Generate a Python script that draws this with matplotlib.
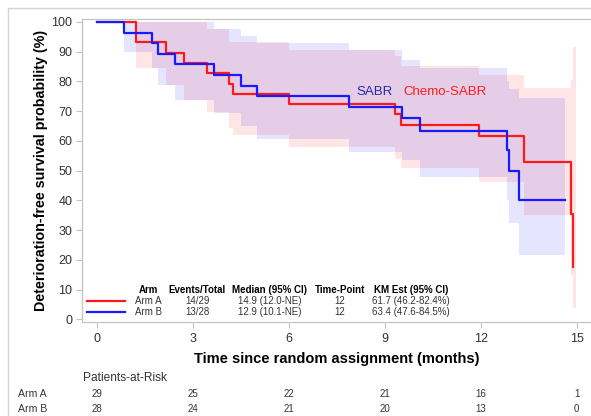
import numpy as np
import matplotlib
matplotlib.use('Agg')
import matplotlib.pyplot as plt
from matplotlib.lines import Line2D
from matplotlib.transforms import blended_transform_factory

plt.rcParams['font.family'] = ['Liberation Sans', 'DejaVu Sans']

# ── Data ──────────────────────────────────────────────────────────────────────

# Arm A (Chemo-SABR)
a_time  = [0, 1.23, 2.17, 2.74, 3.44, 4.15, 4.25, 6.02, 9.32, 9.50, 11.96, 13.35, 14.83, 14.90]
a_surv  = [100, 93.1, 89.7, 86.2, 82.8, 79.3, 75.9, 72.4, 68.9, 65.5, 61.7, 52.9, 35.3, 17.6]
a_upper = [100, 100, 100, 100, 97.6, 93.2, 93.2, 90.6, 88.5, 85.3, 82.2, 77.7, 80.6, 91.7]
a_lower = [100, 84.4, 78.8, 73.8, 69.8, 64.5, 62.0, 58.1, 54.0, 50.8, 46.3, 35.1, 15.0, 3.8]
a_end      = 14.90
a_band_end = 14.97

# Arm B (SABR)
b_time  = [0, 0.84, 1.72, 1.91, 2.45, 3.68, 4.51, 5.00, 7.90, 9.55, 10.09, 12.83, 12.90, 13.19]
b_surv  = [100, 96.4, 92.9, 89.3, 85.7, 82.1, 78.6, 75.0, 71.4, 67.7, 63.5, 57.1, 50.0, 40.0]
b_upper = [100, 100, 100, 100, 100, 97.6, 95.3, 92.8, 90.6, 87.2, 84.4, 80.0, 77.5, 74.3]
b_lower = [100, 89.8, 84.4, 78.8, 73.8, 69.3, 65.0, 60.8, 56.4, 53.5, 48.0, 40.0, 32.3, 21.6]
b_end = 14.65

risk_times = [0, 3, 6, 9, 12, 15]
risk_a = [29, 25, 22, 21, 16, 1]
risk_b = [28, 24, 21, 20, 13, 0]

table_header = ['Arm', 'Events/Total', 'Median (95% CI)', 'Time-Point', 'KM Est (95% CI)']
table_rows = [
    ['Arm A', '14/29', '14.9 (12.0-NE)', '12', '61.7 (46.2-82.4%)'],
    ['Arm B', '13/28', '12.9 (10.1-NE)', '12', '63.4 (47.6-84.5%)'],
]

RED  = '#ff1a1a'
BLUE = '#1a1aff'
GRID = '#c4c4c4'
TXT  = '#333333'

W, H = 591, 416
def fx(px): return px / W
def fy(py): return 1 - py / H

fig = plt.figure(figsize=(5.91, 4.16), dpi=100)
ax = fig.add_axes([fx(82), fy(322), 1.0 - fx(82), fy(19) - fy(322)])

# confidence bands
ax.fill_between(a_time + [a_band_end], a_lower + [a_lower[-1]], a_upper + [a_upper[-1]],
                step='post', color='red', alpha=0.1, lw=0)
ax.fill_between(b_time + [b_end], b_lower + [b_lower[-1]], b_upper + [b_upper[-1]],
                step='post', color='blue', alpha=0.1, lw=0)

# KM curves
ax.step(a_time + [a_end], a_surv + [a_surv[-1]], where='post', color=RED, lw=1.6)
ax.step(b_time + [b_end], b_surv + [b_surv[-1]], where='post', color=BLUE, lw=1.6)

ax.text(8.12, 76.6, 'SABR', color='#2828a8', fontsize=9.5, va='center')
ax.text(9.58, 76.6, 'Chemo-SABR', color='#ff1a1a', fontsize=9.5, va='center')

ax.set_xlim(-0.46, 15.45)
ax.set_ylim(-0.9, 101.0)
ax.set_xticks(risk_times)
ax.set_yticks(np.arange(0, 101, 10))
ax.tick_params(axis='both', colors=GRID, labelcolor=TXT, labelsize=9, length=4, width=0.8)
ax.tick_params(axis='x', pad=4)
ax.tick_params(axis='y', pad=3)
for s in ['top', 'left', 'bottom']:
    ax.spines[s].set_color(GRID)
    ax.spines[s].set_linewidth(0.9)
ax.spines['right'].set_visible(False)

fig.text(fx(41), fy(170), 'Deterioration-free survival probability (%)', rotation=90,
         ha='center', va='center', fontsize=10.3, fontweight='bold', color='black')
fig.text(fx(337), fy(359), 'Time since random assignment (months)',
         ha='center', va='center', fontsize=10.5, fontweight='bold', color='black')

# legend table inside the plot
col_x = [148.5, 197, 270, 340, 411]
row_y = [290, 300.7, 312.3]
for cx, h in zip(col_x, table_header):
    fig.text(fx(cx), fy(row_y[0]), h, ha='center', va='center', fontsize=7,
             fontweight='bold', color='black')
for ry, row in zip(row_y[1:], table_rows):
    for cx, v in zip(col_x, row):
        fig.text(fx(cx), fy(ry), v, ha='center', va='center', fontsize=7, color=TXT)
for ry, c in zip(row_y[1:], [RED, BLUE]):
    fig.add_artist(Line2D([fx(87), fx(125)], [fy(ry), fy(ry)], color=c, lw=1.6))

# patients at risk
fig.text(fx(83), fy(378), 'Patients-at-Risk', ha='left', va='center', fontsize=8.6, color=TXT)
trans = blended_transform_factory(ax.transData, fig.transFigure)
for ry, name, vals in [(394, 'Arm A', risk_a), (409, 'Arm B', risk_b)]:
    fig.text(fx(18), fy(ry), name, ha='left', va='center', fontsize=7.6, color=TXT)
    for t, v in zip(risk_times, vals):
        ax.text(t, fy(ry), str(v), transform=trans, ha='center', va='center',
                fontsize=7, color=TXT, clip_on=False)

# outer frame
fig.add_artist(Line2D([fx(8), fx(8)], [0, fy(8)], color='#d4d4d4', lw=1))
fig.add_artist(Line2D([fx(8), 1], [fy(8), fy(8)], color='#d4d4d4', lw=1))

fig.savefig('out.png', dpi=100)
